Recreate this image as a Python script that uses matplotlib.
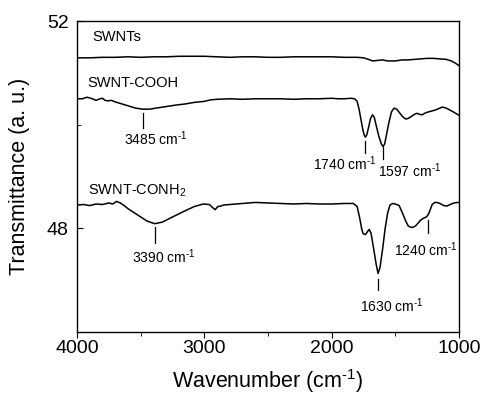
import matplotlib
matplotlib.use('Agg')
import matplotlib.pyplot as plt
from matplotlib.ticker import MultipleLocator

plt.rcParams['font.family'] = ['Liberation Sans', 'DejaVu Sans']
plt.rcParams['mathtext.fontset'] = 'custom'
plt.rcParams['mathtext.rm'] = 'Liberation Sans'
plt.rcParams['mathtext.it'] = 'Liberation Sans'
plt.rcParams['mathtext.default'] = 'regular'

# %% spectra (wavenumber, transmittance)
wn_swnt = [4000, 3900, 3800, 3700, 3600, 3500, 3400, 3300, 3200, 3100, 3000, 2900, 2800,
           2700, 2600, 2500, 2400, 2300, 2200, 2100, 2000, 1900, 1800, 1750, 1710, 1680,
           1640, 1600, 1560, 1500, 1450, 1400, 1350, 1300, 1250, 1200, 1150, 1100, 1060,
           1030, 1000]
t_swnt = [51.29, 51.29, 51.30, 51.30, 51.31, 51.30, 51.31, 51.31, 51.32, 51.32, 51.32, 51.31, 51.30,
          51.31, 51.31, 51.30, 51.30, 51.31, 51.31, 51.31, 51.31, 51.30, 51.30, 51.29, 51.26, 51.23,
          51.24, 51.25, 51.23, 51.23, 51.25, 51.25, 51.26, 51.27, 51.28, 51.28, 51.27, 51.26, 51.23,
          51.19, 51.14]

wn_cooh = [4000, 3960, 3920, 3880, 3850, 3820, 3800, 3780, 3760, 3730, 3700, 3660, 3620,
           3580, 3540, 3485, 3430, 3380, 3300, 3220, 3150, 3080, 3000, 2950, 2900, 2800,
           2700, 2600, 2500, 2400, 2300, 2200, 2100, 2000, 1950, 1900, 1850, 1820, 1800,
           1785, 1770, 1755, 1745, 1735, 1725, 1710, 1695, 1680, 1665, 1650, 1630, 1610,
           1597, 1585, 1570, 1550, 1530, 1510, 1490, 1470, 1445, 1420, 1400, 1380, 1350,
           1330, 1310, 1290, 1270, 1250, 1220, 1190, 1160, 1130, 1100, 1070, 1040, 1000]
t_cooh = [50.50, 50.50, 50.53, 50.50, 50.47, 50.50, 50.51, 50.47, 50.46, 50.47, 50.44, 50.41, 50.38,
          50.35, 50.32, 50.30, 50.30, 50.32, 50.35, 50.38, 50.40, 50.43, 50.45, 50.48, 50.49, 50.50,
          50.49, 50.50, 50.50, 50.50, 50.49, 50.50, 50.50, 50.51, 50.50, 50.50, 50.51, 50.50, 50.45,
          50.30, 50.10, 49.90, 49.80, 49.76, 49.80, 49.95, 50.12, 50.19, 50.14, 49.98, 49.78, 49.63,
          49.58, 49.62, 49.80, 50.05, 50.25, 50.32, 50.30, 50.24, 50.16, 50.11, 50.12, 50.15, 50.20,
          50.22, 50.20, 50.19, 50.22, 50.24, 50.26, 50.28, 50.31, 50.34, 50.32, 50.28, 50.24, 50.18]

wn_conh = [4000, 3950, 3900, 3850, 3800, 3750, 3720, 3690, 3660, 3630, 3600, 3550, 3500,
           3450, 3390, 3330, 3250, 3150, 3080, 3010, 2960, 2935, 2915, 2895, 2870, 2850,
           2800, 2700, 2600, 2500, 2400, 2300, 2200, 2100, 2000, 1900, 1830, 1800, 1780,
           1765, 1754, 1735, 1715, 1705, 1690, 1670, 1650, 1636, 1620, 1600, 1580, 1560,
           1542, 1520, 1500, 1470, 1445, 1420, 1400, 1380, 1361, 1340, 1322, 1300, 1283,
           1265, 1252, 1235, 1211, 1190, 1173, 1150, 1120, 1094, 1070, 1040, 1008, 1000]
t_conh = [48.45, 48.46, 48.44, 48.47, 48.46, 48.49, 48.47, 48.52, 48.49, 48.44, 48.38, 48.30, 48.22,
          48.14, 48.09, 48.12, 48.22, 48.34, 48.42, 48.47, 48.46, 48.40, 48.36, 48.42, 48.43, 48.45,
          48.46, 48.48, 48.50, 48.49, 48.48, 48.47, 48.48, 48.47, 48.47, 48.48, 48.48, 48.42, 48.20,
          48.00, 47.90, 47.88, 47.95, 47.98, 47.90, 47.60, 47.30, 47.13, 47.25, 47.60, 48.00, 48.30,
          48.45, 48.48, 48.47, 48.44, 48.30, 48.15, 48.05, 48.02, 48.02, 48.05, 48.10, 48.16, 48.19,
          48.21, 48.23, 48.30, 48.46, 48.50, 48.50, 48.48, 48.44, 48.43, 48.46, 48.49, 48.50, 48.50]

series_names = ['SWNTs', 'SWNT-COOH', 'SWNT-CONH$_2$']
series_label_pos = [(3882, 51.69), (3921, 50.80), (3914, 48.72)]

inv_cm = r'cm$^{\text{-}1}$'
# peak markers: (wavenumber, tick top, tick bottom, text x, text y, text)
peaks = [
    (3485, 50.23, 49.94, 3380, 49.73, '3485 ' + inv_cm),
    (1735, 49.69, 49.46, 1895, 49.24, '1740 ' + inv_cm),
    (1597, 49.57, 49.34, 1385, 49.11, '1597 ' + inv_cm),
    (3390, 48.02, 47.71, 3317, 47.46, '3390 ' + inv_cm),
    (1636, 47.03, 46.82, 1526, 46.50, '1630 ' + inv_cm),
    (1245, 48.17, 47.92, 1259, 47.59, '1240 ' + inv_cm),
]

# %%
fig = plt.figure(figsize=(4.82, 3.97), dpi=100)
ax = fig.add_axes([0.1598, 0.1637, 0.7925, 0.7833])

ax.plot(wn_swnt, t_swnt, color='black', lw=1.1)
ax.plot(wn_cooh, t_cooh, color='black', lw=1.1)
ax.plot(wn_conh, t_conh, color='black', lw=1.1)

for name, (x, y) in zip(series_names, series_label_pos):
    ax.text(x, y, name, fontsize=10.5, ha='left', va='center')

for wn, y1, y2, tx, ty, txt in peaks:
    ax.plot([wn, wn], [y1, y2], color='black', lw=0.9)
    ax.text(tx, ty, txt, fontsize=10, ha='center', va='center')

ax.set_xlim(4000, 1000)
ax.set_ylim(46, 52)
ax.xaxis.set_major_locator(MultipleLocator(1000))
ax.xaxis.set_minor_locator(MultipleLocator(500))
ax.yaxis.set_major_locator(MultipleLocator(4))
ax.yaxis.set_minor_locator(MultipleLocator(2))
ax.tick_params(axis='x', which='both', direction='out', labelsize=14, pad=2)
ax.tick_params(axis='x', which='major', length=4)
ax.tick_params(axis='x', which='minor', length=3)
ax.tick_params(axis='y', which='both', direction='in', labelsize=14, pad=6)
ax.tick_params(axis='y', which='major', length=4)
ax.tick_params(axis='y', which='minor', length=3)
for s in ax.spines.values():
    s.set_linewidth(1.0)

ax.set_xlabel('Wavenumber (' + inv_cm + ')', fontsize=15.5, labelpad=7)
ax.set_ylabel('Transmittance (a. u.)', fontsize=15.5, labelpad=12)

fig.savefig('out.png', dpi=100)
